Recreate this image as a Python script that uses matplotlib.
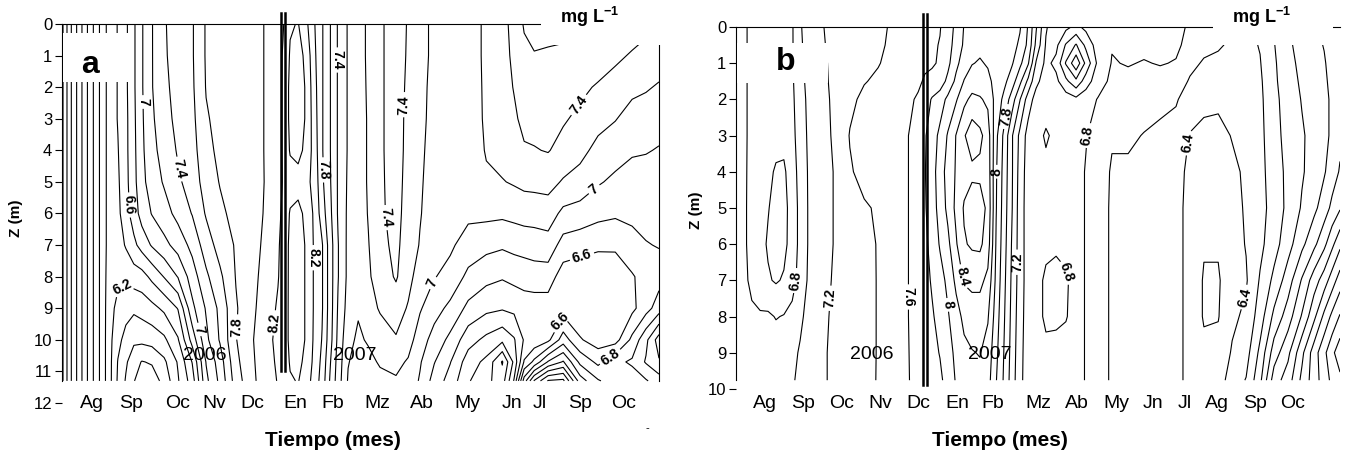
"""
Dissolved-oxygen isopleths (depth vs. sampling month) for two stations,
redrawn from the published figure as matplotlib contour plots.
"""

from __future__ import annotations

from typing import Final

import matplotlib

matplotlib.use("Agg")
import matplotlib.pyplot as plt
import numpy as np
from matplotlib.patches import Rectangle

FIG_W_PX: Final[int] = 1345
FIG_H_PX: Final[int] = 455
DPI: Final[int] = 100

# ---------------------------------------------------------------- panel a
# depth of each sample (m) and sampling time (months after 1 July 2006)
DEPTH_A = [0, 1, 2, 3, 4, 5, 6, 7, 8, 9, 10, 10.7, 11.3]
TIME_A = [0.0, 0.19, 0.38, 0.57, 0.76, 0.95, 1.14, 1.33, 1.52, 1.71, 1.90,
          2.14, 2.43, 2.76, 3.10, 3.43, 3.76, 4.14, 4.52, 4.86, 5.14, 5.26,
          5.43, 5.62, 5.81, 6.0, 6.19, 6.38, 6.57, 6.81, 7.05, 7.29, 7.57,
          7.95, 8.24, 8.52, 8.86, 9.24, 9.67, 10.10, 10.48, 10.76, 11.0,
          11.24, 11.57, 11.93, 12.33, 12.76, 13.17, 13.57, 13.90, 14.21]
# one oxygen profile (mg/L, surface -> bottom) per sampling time
OXYGEN_A = [
    [8.05, 8.05, 8.05, 8.05, 8.05, 8.05, 8.05, 8.05, 8.05, 8.05, 8.05, 8.05, 8.05],
    [7.65, 7.65, 7.65, 7.65, 7.65, 7.65, 7.65, 7.65, 7.65, 7.65, 7.65, 7.65, 7.65],
    [7.35, 7.35, 7.35, 7.35, 7.35, 7.35, 7.35, 7.35, 7.35, 7.35, 7.35, 7.35, 7.35],
    [7.05, 7.05, 7.05, 7.05, 7.05, 7.05, 7.05, 7.05, 7.05, 7.05, 7.05, 7.05, 7.05],
    [6.78, 6.78, 6.78, 6.78, 6.78, 6.78, 6.78, 6.78, 6.78, 6.78, 6.78, 6.78, 6.78],
    [6.52, 6.52, 6.52, 6.52, 6.52, 6.52, 6.52, 6.52, 6.52, 6.52, 6.52, 6.52, 6.52],
    [6.3, 6.3, 6.3, 6.3, 6.3, 6.3, 6.3, 6.3, 6.28, 6.26, 6.25, 6.25, 6.25],
    [6.41, 6.41, 6.41, 6.41, 6.39, 6.37, 6.35, 6.3, 6.24, 6.15, 6.06, 5.99, 5.97],
    [6.56, 6.56, 6.56, 6.55, 6.55, 6.54, 6.52, 6.42, 6.24, 6.08, 5.93, 5.83, 5.78],
    [6.77, 6.77, 6.77, 6.76, 6.75, 6.74, 6.7, 6.55, 6.3, 6.04, 5.84, 5.68, 5.61],
    [6.98, 6.98, 6.98, 6.97, 6.96, 6.94, 6.88, 6.68, 6.32, 6.08, 5.85, 5.59, 5.5],
    [7.19, 7.19, 7.19, 7.17, 7.14, 7.1, 7.01, 6.82, 6.45, 6.14, 5.88, 5.62, 5.5],
    [7.38, 7.37, 7.35, 7.32, 7.28, 7.22, 7.12, 6.94, 6.61, 6.24, 5.96, 5.76, 5.66],
    [7.5, 7.5, 7.48, 7.46, 7.42, 7.37, 7.26, 7.08, 6.81, 6.41, 6.18, 6.02, 5.98],
    [7.58, 7.58, 7.57, 7.55, 7.52, 7.48, 7.41, 7.26, 7.1, 6.95, 6.68, 6.41, 6.3],
    [7.82, 7.82, 7.81, 7.78, 7.75, 7.7, 7.62, 7.5, 7.36, 7.22, 7.15, 7.01, 6.95],
    [7.9, 7.9, 7.88, 7.86, 7.84, 7.81, 7.76, 7.68, 7.56, 7.45, 7.42, 7.3, 7.25],
    [7.92, 7.92, 7.92, 7.91, 7.9, 7.88, 7.86, 7.82, 7.81, 7.78, 7.79, 7.75, 7.7],
    [7.95, 7.95, 7.95, 7.95, 7.95, 7.94, 7.93, 7.92, 7.92, 7.95, 7.98, 7.96, 7.95],
    [8.01, 8.01, 8.01, 8.01, 8.01, 8.01, 8.02, 8.05, 8.1, 8.12, 8.15, 8.15, 8.12],
    [8.1, 8.1, 8.12, 8.12, 8.12, 8.14, 8.16, 8.18, 8.19, 8.22, 8.24, 8.22, 8.21],
    [8.18, 8.22, 8.22, 8.22, 8.22, 8.21, 8.23, 8.25, 8.26, 8.27, 8.27, 8.26, 8.25],
    [8.38, 8.42, 8.45, 8.45, 8.42, 8.3, 8.42, 8.45, 8.45, 8.45, 8.45, 8.42, 8.38],
    [8.41, 8.48, 8.5, 8.5, 8.46, 8.32, 8.46, 8.5, 8.5, 8.5, 8.5, 8.45, 8.41],
    [8.25, 8.35, 8.38, 8.38, 8.35, 8.25, 8.35, 8.38, 8.38, 8.38, 8.38, 8.35, 8.3],
    [8.02, 8.05, 8.08, 8.1, 8.12, 8.15, 8.17, 8.18, 8.18, 8.18, 8.17, 8.15, 8.12],
    [7.82, 7.82, 7.82, 7.82, 7.82, 7.84, 7.9, 8.02, 8.02, 8.02, 7.99, 7.95, 7.92],
    [7.61, 7.61, 7.61, 7.61, 7.61, 7.62, 7.65, 7.7, 7.7, 7.7, 7.68, 7.62, 7.58],
    [7.38, 7.38, 7.38, 7.38, 7.38, 7.38, 7.38, 7.41, 7.41, 7.38, 7.35, 7.32, 7.3],
    [7.18, 7.18, 7.18, 7.18, 7.18, 7.17, 7.16, 7.15, 7.15, 7.12, 7.05, 7.01, 6.98],
    [7.1, 7.1, 7.1, 7.1, 7.1, 7.1, 7.1, 7.08, 7.06, 7.02, 6.97, 6.93, 6.9],
    [7.24, 7.24, 7.23, 7.22, 7.22, 7.22, 7.21, 7.19, 7.17, 7.12, 7.02, 6.95, 6.9],
    [7.36, 7.36, 7.36, 7.36, 7.36, 7.36, 7.36, 7.34, 7.3, 7.22, 7.1, 7.02, 6.95],
    [7.52, 7.52, 7.52, 7.52, 7.52, 7.5, 7.48, 7.45, 7.42, 7.3, 7.18, 7.05, 6.98],
    [7.38, 7.37, 7.35, 7.33, 7.32, 7.31, 7.3, 7.29, 7.27, 7.18, 7.08, 6.98, 6.92],
    [7.26, 7.26, 7.25, 7.24, 7.23, 7.22, 7.21, 7.19, 7.1, 7.02, 6.9, 6.82, 6.78],
    [7.16, 7.16, 7.15, 7.15, 7.14, 7.13, 7.12, 7.08, 7.01, 6.88, 6.72, 6.61, 6.52],
    [7.14, 7.14, 7.14, 7.13, 7.12, 7.1, 7.07, 7.03, 6.94, 6.75, 6.55, 6.41, 6.32],
    [7.15, 7.15, 7.14, 7.13, 7.12, 7.1, 7.04, 6.92, 6.75, 6.55, 6.28, 6.1, 6.02],
    [7.22, 7.22, 7.22, 7.22, 7.21, 7.18, 7.05, 6.86, 6.66, 6.45, 6.15, 5.95, 5.85],
    [7.34, 7.33, 7.32, 7.3, 7.27, 7.19, 7.04, 6.83, 6.62, 6.42, 6.05, 5.58, 5.7],
    [7.46, 7.44, 7.41, 7.37, 7.31, 7.22, 7.06, 6.86, 6.66, 6.45, 6.18, 6.05, 6.22],
    [7.62, 7.55, 7.5, 7.45, 7.38, 7.25, 7.08, 6.88, 6.68, 6.5, 6.42, 6.62, 7.1],
    [7.66, 7.59, 7.52, 7.46, 7.39, 7.26, 7.08, 6.9, 6.7, 6.5, 6.45, 6.85, 7.62],
    [7.68, 7.57, 7.5, 7.46, 7.41, 7.27, 7.1, 6.92, 6.7, 6.5, 6.55, 7.22, 8.02],
    [7.68, 7.55, 7.47, 7.42, 7.34, 7.18, 6.95, 6.72, 6.5, 6.5, 6.9, 7.42, 8.05],
    [7.66, 7.52, 7.44, 7.36, 7.26, 7.12, 6.92, 6.68, 6.47, 6.43, 6.62, 6.95, 7.3],
    [7.62, 7.5, 7.38, 7.27, 7.14, 7.02, 6.86, 6.64, 6.45, 6.42, 6.5, 6.75, 7.02],
    [7.56, 7.44, 7.32, 7.21, 7.08, 6.96, 6.83, 6.64, 6.46, 6.43, 6.52, 6.95, 6.9],
    [7.5, 7.38, 7.25, 7.12, 7.02, 6.93, 6.84, 6.74, 6.58, 6.55, 6.85, 7.03, 6.9],
    [7.45, 7.34, 7.22, 7.1, 7.01, 6.93, 6.86, 6.79, 6.68, 6.72, 7.15, 7.22, 6.98],
    [7.42, 7.3, 7.18, 7.06, 6.99, 6.93, 6.87, 6.81, 6.72, 6.9, 7.5, 7.38, 7.1],
]
MONTH_TICKS_A = [0.71, 1.64, 2.76, 3.62, 4.52, 5.55, 6.45, 7.5, 8.57, 9.64,
                 10.71, 11.38, 12.33, 13.36]
MONTH_LABELS_A = ["Ag", "Sp", "Oc", "Nv", "Dc", "En", "Fb", "Mz", "Ab", "My",
                  "Jn", "Jl", "Sp", "Oc"]
YEAR_BREAK_A: Final[float] = 5.26
LABEL_SPOTS_A = [(1.5, 8.42), (1.62, 5.73), (1.9, 2.47), (2.69, 4.62),
                 (3.24, 9.68), (4.12, 9.59), (5.02, 9.46), (6.55, 1.14),
                 (6.21, 4.62), (5.98, 7.4), (8.29, 2.56), (7.64, 6.14),
                 (8.76, 8.16), (12.64, 2.88), (12.74, 5.35), (12.4, 7.47),
                 (11.93, 9.46), (13.12, 10.7)]

# ---------------------------------------------------------------- panel b
DEPTH_B = [0, 0.5, 1, 1.5, 2, 3, 4, 5, 6, 7, 8, 9, 9.76]
TIME_B = [0.0, 0.21, 0.42, 0.64, 0.85, 1.06, 1.27, 1.49, 1.70, 1.96, 2.28,
          2.65, 3.02, 3.40, 3.77, 4.14, 4.51, 4.83, 5.01, 5.20, 5.41, 5.62,
          5.84, 6.05, 6.26, 6.47, 6.68, 6.90, 7.11, 7.32, 7.53, 7.75, 7.96,
          8.22, 8.49, 8.75, 9.02, 9.28, 9.60, 9.97, 10.40, 10.82, 11.25,
          11.67, 12.04, 12.41, 12.79, 13.16, 13.53, 13.90, 14.27, 14.64,
          15.01, 15.33, 15.60, 15.81, 16.02]
OXYGEN_B = [
    [6.92, 6.92, 6.92, 6.92, 6.92, 6.92, 6.92, 6.92, 6.92, 6.92, 6.92, 6.95, 6.95],
    [6.84, 6.84, 6.84, 6.84, 6.84, 6.84, 6.84, 6.84, 6.84, 6.85, 6.88, 6.9, 6.9],
    [6.74, 6.74, 6.74, 6.74, 6.74, 6.74, 6.73, 6.72, 6.72, 6.75, 6.84, 6.88, 6.9],
    [6.72, 6.72, 6.72, 6.72, 6.72, 6.7, 6.68, 6.66, 6.66, 6.7, 6.82, 6.88, 6.9],
    [6.72, 6.72, 6.72, 6.72, 6.71, 6.68, 6.64, 6.61, 6.58, 6.62, 6.83, 6.9, 6.92],
    [6.72, 6.72, 6.72, 6.71, 6.7, 6.66, 6.58, 6.54, 6.54, 6.58, 6.79, 6.9, 6.92],
    [6.72, 6.72, 6.72, 6.71, 6.7, 6.66, 6.57, 6.54, 6.55, 6.62, 6.81, 6.92, 6.94],
    [6.78, 6.78, 6.78, 6.77, 6.76, 6.74, 6.7, 6.68, 6.68, 6.72, 6.86, 6.95, 6.98],
    [6.98, 6.97, 6.96, 6.94, 6.92, 6.9, 6.88, 6.86, 6.86, 6.88, 6.96, 7.02, 7.04],
    [7.1, 7.09, 7.08, 7.07, 7.06, 7.05, 7.04, 7.04, 7.04, 7.05, 7.08, 7.1, 7.12],
    [7.19, 7.18, 7.16, 7.15, 7.14, 7.13, 7.12, 7.12, 7.12, 7.14, 7.16, 7.17, 7.17],
    [7.26, 7.26, 7.26, 7.26, 7.25, 7.24, 7.22, 7.22, 7.22, 7.23, 7.24, 7.25, 7.25],
    [7.3, 7.31, 7.32, 7.34, 7.36, 7.41, 7.38, 7.33, 7.3, 7.3, 7.3, 7.3, 7.3],
    [7.33, 7.34, 7.36, 7.39, 7.44, 7.48, 7.46, 7.38, 7.35, 7.34, 7.34, 7.34, 7.35],
    [7.36, 7.37, 7.39, 7.43, 7.47, 7.52, 7.5, 7.42, 7.41, 7.41, 7.41, 7.41, 7.41],
    [7.42, 7.43, 7.45, 7.48, 7.52, 7.55, 7.53, 7.5, 7.48, 7.47, 7.46, 7.46, 7.45],
    [7.46, 7.47, 7.5, 7.53, 7.56, 7.58, 7.58, 7.58, 7.58, 7.58, 7.58, 7.58, 7.58],
    [7.5, 7.52, 7.54, 7.57, 7.62, 7.68, 7.68, 7.68, 7.68, 7.68, 7.68, 7.66, 7.65],
    [7.54, 7.55, 7.57, 7.62, 7.7, 7.78, 7.79, 7.78, 7.76, 7.74, 7.72, 7.7, 7.68],
    [7.56, 7.57, 7.58, 7.65, 7.82, 7.9, 7.92, 7.9, 7.86, 7.82, 7.78, 7.74, 7.72],
    [7.59, 7.61, 7.62, 7.7, 7.9, 8.05, 8.1, 8.08, 8.02, 7.92, 7.86, 7.81, 7.76],
    [7.7, 7.72, 7.75, 7.85, 8.05, 8.22, 8.28, 8.25, 8.15, 8.05, 7.98, 7.92, 7.88],
    [7.85, 7.88, 7.95, 8.05, 8.18, 8.41, 8.42, 8.45, 8.38, 8.25, 8.12, 8.05, 8.02],
    [8.01, 8.03, 8.1, 8.21, 8.35, 8.58, 8.52, 8.62, 8.58, 8.42, 8.25, 8.15, 8.1],
    [8.1, 8.13, 8.19, 8.3, 8.45, 8.72, 8.55, 8.72, 8.63, 8.45, 8.3, 8.19, 8.15],
    [8.12, 8.15, 8.22, 8.3, 8.42, 8.65, 8.55, 8.7, 8.64, 8.45, 8.3, 8.21, 8.15],
    [8.1, 8.12, 8.18, 8.25, 8.36, 8.5, 8.52, 8.55, 8.5, 8.35, 8.22, 8.12, 8.08],
    [8.15, 8.15, 8.15, 8.13, 8.12, 8.05, 8.02, 8.01, 7.98, 7.95, 7.9, 7.85, 7.81],
    [8.15, 8.14, 8.12, 8.05, 7.95, 7.75, 7.72, 7.7, 7.68, 7.65, 7.62, 7.59, 7.57],
    [8.1, 8.08, 8.02, 7.9, 7.7, 7.42, 7.42, 7.41, 7.38, 7.36, 7.34, 7.32, 7.3],
    [8.02, 7.96, 7.85, 7.65, 7.41, 7.15, 7.12, 7.1, 7.1, 7.1, 7.08, 7.06, 7.05],
    [7.78, 7.75, 7.62, 7.35, 7.1, 6.92, 6.9, 6.9, 6.9, 6.9, 6.9, 6.9, 6.9],
    [7.42, 7.35, 7.18, 7.05, 6.92, 6.86, 6.86, 6.86, 6.86, 6.86, 6.86, 6.86, 6.86],
    [7.02, 6.98, 6.95, 6.9, 6.88, 6.78, 6.84, 6.85, 6.84, 6.77, 6.77, 6.84, 6.86],
    [6.88, 6.95, 7.05, 6.95, 6.84, 6.84, 6.86, 6.85, 6.82, 6.76, 6.77, 6.85, 6.86],
    [6.95, 7.22, 7.42, 7.15, 6.9, 6.84, 6.86, 6.86, 6.84, 6.78, 6.79, 6.86, 6.88],
    [7.05, 7.42, 7.75, 7.35, 6.95, 6.86, 6.86, 6.86, 6.86, 6.86, 6.86, 6.86, 6.86],
    [6.95, 7.15, 7.35, 7.1, 6.88, 6.81, 6.79, 6.79, 6.79, 6.79, 6.79, 6.79, 6.79],
    [6.84, 6.9, 6.95, 6.88, 6.79, 6.72, 6.7, 6.7, 6.7, 6.7, 6.7, 6.7, 6.7],
    [6.82, 6.81, 6.79, 6.76, 6.7, 6.62, 6.58, 6.57, 6.57, 6.57, 6.57, 6.57, 6.57],
    [6.84, 6.83, 6.81, 6.76, 6.72, 6.64, 6.56, 6.55, 6.55, 6.55, 6.55, 6.55, 6.55],
    [6.86, 6.84, 6.79, 6.76, 6.7, 6.59, 6.52, 6.5, 6.5, 6.5, 6.5, 6.5, 6.5],
    [6.86, 6.85, 6.81, 6.74, 6.66, 6.55, 6.5, 6.48, 6.48, 6.48, 6.48, 6.48, 6.48],
    [6.84, 6.83, 6.79, 6.7, 6.62, 6.52, 6.46, 6.44, 6.44, 6.44, 6.44, 6.44, 6.44],
    [6.78, 6.75, 6.65, 6.58, 6.5, 6.39, 6.36, 6.36, 6.36, 6.36, 6.36, 6.36, 6.36],
    [6.7, 6.65, 6.58, 6.5, 6.44, 6.36, 6.3, 6.28, 6.22, 6.18, 6.18, 6.25, 6.28],
    [6.66, 6.62, 6.56, 6.5, 6.44, 6.34, 6.3, 6.28, 6.22, 6.18, 6.19, 6.26, 6.3],
    [6.59, 6.57, 6.54, 6.5, 6.46, 6.41, 6.36, 6.34, 6.32, 6.32, 6.36, 6.42, 6.5],
    [6.56, 6.55, 6.52, 6.5, 6.48, 6.46, 6.43, 6.42, 6.41, 6.38, 6.44, 6.52, 6.61],
    [6.61, 6.61, 6.59, 6.57, 6.56, 6.55, 6.54, 6.53, 6.55, 6.62, 6.7, 6.85, 6.95],
    [6.81, 6.79, 6.77, 6.76, 6.74, 6.72, 6.7, 6.68, 6.72, 6.85, 7.05, 7.3, 7.5],
    [6.98, 6.96, 6.94, 6.92, 6.9, 6.88, 6.85, 6.85, 6.92, 7.1, 7.3, 7.55, 7.7],
    [7.1, 7.08, 7.05, 7.03, 7.01, 6.98, 6.98, 7.02, 7.15, 7.42, 7.62, 7.95, 8.05],
    [7.15, 7.14, 7.12, 7.1, 7.08, 7.06, 7.08, 7.15, 7.35, 7.7, 7.95, 8.3, 8.3],
    [7.21, 7.21, 7.18, 7.16, 7.14, 7.14, 7.18, 7.3, 7.55, 7.9, 8.25, 8.55, 8.5],
    [7.3, 7.3, 7.28, 7.26, 7.24, 7.24, 7.3, 7.45, 7.75, 8.1, 8.45, 8.75, 8.65],
    [7.38, 7.38, 7.38, 7.36, 7.34, 7.35, 7.42, 7.58, 7.95, 8.3, 8.62, 8.92, 8.75],
]
MONTH_TICKS_B = [0.77, 1.78, 2.81, 3.82, 4.83, 5.86, 6.82, 8.01, 9.05, 10.08,
                 11.06, 11.91, 12.76, 13.77, 14.77]
MONTH_LABELS_B = ["Ag", "Sp", "Oc", "Nv", "Dc", "En", "Fb", "Mz", "Ab", "My",
                  "Jn", "Jl", "Ag", "Sp", "Oc"]
YEAR_BREAK_B: Final[float] = 5.01
LABEL_SPOTS_B = [(1.70, 7.03), (2.41, 7.49), (4.62, 7.46), (5.60, 7.68),
                 (6.02, 6.9), (7.19, 2.48), (6.95, 4.0), (7.48, 6.5),
                 (9.26, 2.98), (8.67, 6.8), (11.96, 3.2), (13.61, 7.5)]

LEVELS = np.round(np.arange(5.0, 9.01, 0.2), 1)


def px_rect(left: float, top: float, right: float, bottom: float) -> list[float]:
    """Axes rectangle in figure fractions from pixel edges."""
    return [left / FIG_W_PX, 1 - bottom / FIG_H_PX,
            (right - left) / FIG_W_PX, (bottom - top) / FIG_H_PX]


def fig_xy(px: float, py: float) -> tuple[float, float]:
    return px / FIG_W_PX, 1 - py / FIG_H_PX


def draw_panel(ax, time, depth, oxygen, x_max, y_max, spots, ticks, labels,
               n_yticks, year_break, break_end, right_spine) -> None:
    """Contours one station and dresses its axes like the original."""
    grid = np.array(oxygen, dtype=float).T
    ax.set_xlim(0, x_max)
    ax.set_ylim(y_max, 0)
    cs = ax.contour(time, depth, grid, levels=LEVELS, colors="black",
                    linewidths=0.8, zorder=2)
    texts = ax.clabel(cs, manual=spots, fmt="%g", fontsize=10,
                      inline=True, inline_spacing=3)
    for t in texts:
        t.set_fontweight("bold")

    bottom = depth[-1]
    ax.spines["bottom"].set_visible(False)
    ax.spines["left"].set_bounds(0, bottom)
    ax.spines["right"].set_visible(right_spine)
    ax.spines["right"].set_bounds(0, bottom)
    for side in ("left", "right", "top"):
        ax.spines[side].set_linewidth(0.8)

    ax.set_yticks(range(n_yticks + 1))
    ax.tick_params(axis="y", direction="out", length=5, width=0.8,
                   labelsize=12, pad=2)
    ax.set_xticks(ticks, labels)
    ax.tick_params(axis="x", length=0, labelsize=14, pad=0)
    plt.setp(ax.get_xticklabels(), va="center")

    # double rule marking the change of year
    for dx in (-0.05, 0.05):
        ax.plot([year_break + dx] * 2, [-0.36, break_end], color="black",
                lw=1.8, clip_on=False, zorder=5)


def main() -> None:
    plt.rcParams["font.family"] = ["Liberation Sans", "DejaVu Sans"]
    plt.rcParams["mathtext.fontset"] = "custom"
    plt.rcParams["mathtext.rm"] = "Liberation Sans"
    plt.rcParams["mathtext.bf"] = "Liberation Sans:bold"

    fig = plt.figure(figsize=(FIG_W_PX / DPI, FIG_H_PX / DPI), dpi=DPI)
    ax_a = fig.add_axes(px_rect(62, 24, 659, 403))
    ax_b = fig.add_axes(px_rect(736, 27, 1340, 403))

    draw_panel(ax_a, TIME_A, DEPTH_A, OXYGEN_A, 14.21, 12, LABEL_SPOTS_A,
               MONTH_TICKS_A, MONTH_LABELS_A, 12, YEAR_BREAK_A, 11.0, True)
    draw_panel(ax_b, TIME_B, DEPTH_B, OXYGEN_B, 16.02, 10.39, LABEL_SPOTS_B,
               MONTH_TICKS_B, MONTH_LABELS_B, 10, YEAR_BREAK_B, 9.9, False)

    # white patches that hide the contours behind the panel letter and unit
    for ax, letter_box, unit_box in (
        (ax_a, (0.03, 0.28, 1.59, 1.56), (11.4, -1.2, 3.2, 1.86)),
        (ax_b, (0.03, 0.44, 2.41, 1.11), (12.65, -1.2, 3.19, 1.7)),
    ):
        ax.add_patch(Rectangle(letter_box[:2], letter_box[2], letter_box[3],
                               facecolor="white", edgecolor="none", zorder=4))
        ax.add_patch(Rectangle(unit_box[:2], unit_box[2], unit_box[3],
                               facecolor="white", edgecolor="none", zorder=4,
                               clip_on=False))
    ax_a.text(0.67, 1.3, "a", fontsize=23, fontweight="bold", ha="center",
              va="center", zorder=6)
    ax_b.text(1.33, 0.97, "b", fontsize=23, fontweight="bold", ha="center",
              va="center", zorder=6)

    ax_a.text(3.4, 10.5, "2006", fontsize=14, ha="center", va="center", zorder=6)
    ax_a.text(6.98, 10.5, "2007", fontsize=14, ha="center", va="center", zorder=6)
    ax_b.text(3.61, 9.06, "2006", fontsize=14, ha="center", va="center", zorder=6)
    ax_b.text(6.74, 9.06, "2007", fontsize=14, ha="center", va="center", zorder=6)

    unit = r"mg L$^{\mathbf{-1}}$"
    for px in (560, 1232):
        fig.text(*fig_xy(px, 17), unit, fontsize=13, fontweight="bold",
                 ha="left", va="center")
    for px, py in ((16, 218), (696, 210)):
        fig.text(*fig_xy(px, py), "Z (m)", fontsize=11, fontweight="bold",
                 rotation=90, ha="center", va="center")
    for px in (333, 1000):
        fig.text(*fig_xy(px, 440), "Tiempo (mes)", fontsize=15,
                 fontweight="bold", ha="center", va="center")
    fig.text(*fig_xy(647, 428), "-", fontsize=8, ha="center", va="center")

    fig.savefig("out.png", dpi=DPI)


if __name__ == "__main__":
    main()
